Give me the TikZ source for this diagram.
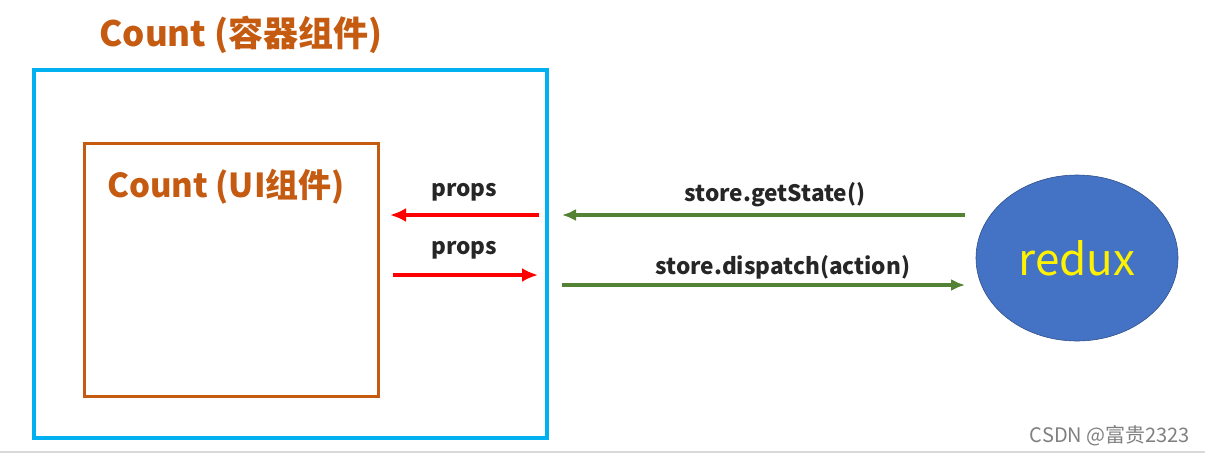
\documentclass[tikz,border=0pt]{standalone}
\usepackage{fontspec}
\setmainfont{Noto Sans CJK SC}
\usetikzlibrary{arrows.meta,positioning,shapes.geometric}
\definecolor{boxcyan}{HTML}{00B0F0}
\definecolor{uiorange}{HTML}{C55A11}
\definecolor{arrgreen}{HTML}{548235}
\definecolor{reduxblue}{HTML}{4472C4}
\tikzset{
  redarr/.style={draw=red, line width=2pt, -{Latex[length=8pt,width=7pt]}},
  greenarr/.style={draw=arrgreen, line width=1.6pt, -{Latex[length=7pt,width=6pt]}},
  lbl/.style={font=\bfseries\fontsize{11.3}{13}\selectfont, text=black!85}
}
\begin{document}
\begin{tikzpicture}[x=0.5pt, y=-0.5pt]
\useasboundingbox (0,0) rectangle (1205,456);
\draw[line width=1pt, gray!30] (0,452)--(1205,452);
\node[text=uiorange, font=\bfseries\fontsize{17.5}{20}\selectfont] (title) at (241,35) {Count (容器组件)};
\draw[boxcyan, line width=2.3pt] (34,70) rectangle (547,438);
\draw[uiorange, line width=1.5pt] (84,143) rectangle (378,396);
\node[text=uiorange, font=\bfseries\fontsize{16.5}{19}\selectfont] (ui) at (226,187) {Count (UI组件)};
\node[ellipse, draw=reduxblue!70!black, line width=0.3pt, fill=reduxblue, minimum width=101pt, minimum height=83pt, inner sep=0pt, text=yellow, font=\fontsize{22}{26}\selectfont] (redux) at (1077,258) {redux};
% props
\coordinate (p1a) at (539,215); \coordinate (p1b) at (390,215);
\coordinate (p2a) at (393,275); \coordinate (p2b) at (538,275);
\draw[redarr] (p1a)--(p1b);
\draw[redarr] (p2a)--(p2b);
\node[lbl] (props1) at (464,192) {props};
\node[lbl] (props2) at (464,250) {props};
% store
\coordinate (s1a) at (965,215); \coordinate (s1b) at (562,215);
\coordinate (s2a) at (562,285); \coordinate (s2b) at (965,285);
\draw[greenarr] (s1a)--(s1b);
\draw[greenarr] (s2a)--(s2b);
\node[lbl] (get) at (775,195) {store.getState()};
\node[lbl] (dispatch) at (783,267) {store.dispatch(action)};
\node[text=gray, font=\fontsize{10}{12}\selectfont] (mark) at (1110,436) {CSDN @富贵2323};
\end{tikzpicture}
\end{document}
